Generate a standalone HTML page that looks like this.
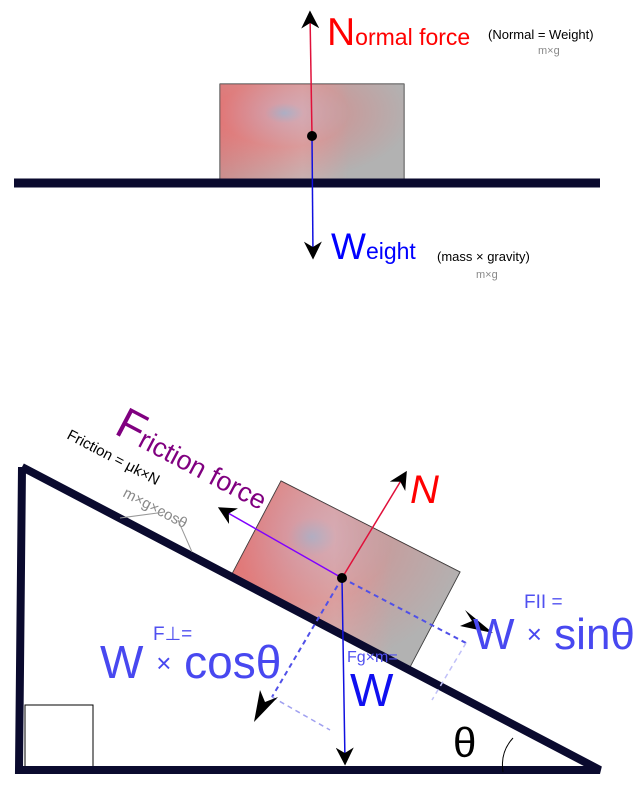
<!DOCTYPE html>
<html><head><meta charset="utf-8"><style>
html,body{margin:0;padding:0;background:#fff;width:642px;height:786px;overflow:hidden}
text{font-family:"Liberation Sans",sans-serif}
</style></head><body>
<svg width="642" height="786" viewBox="0 0 642 786">
<defs>
<radialGradient id="g1" cx="0.35" cy="0.3" r="0.7">
<stop offset="0" stop-color="#7fb8e0"/><stop offset="0.15" stop-color="#c8a0b0"/><stop offset="0.5" stop-color="#d48a8a"/><stop offset="1" stop-color="#b0b0b0"/>
</radialGradient>
<linearGradient id="g2" x1="0" x2="1">
<stop offset="0" stop-color="#f06060"/><stop offset="0.45" stop-color="#d08080" stop-opacity="0.6"/><stop offset="0.7" stop-color="#b4b4b4"/><stop offset="1" stop-color="#b4b4b4"/>
</linearGradient>
<marker id="ah" viewBox="0 0 20 20" refX="16" refY="10" markerWidth="18" markerHeight="18" markerUnits="userSpaceOnUse" orient="auto">
<path d="M0,0 L20,10 L0,20 L6,10 Z" fill="#000"/></marker>
</defs>

<g>
<rect x="220" y="84" width="184" height="97" fill="url(#g2)" stroke="#222" stroke-width="1"/>
<rect x="220" y="84" width="184" height="97" fill="url(#g1)" opacity="0.55"/>
<line x1="14" y1="183" x2="600" y2="183" stroke="#0a0a2e" stroke-width="9"/>
<line x1="312" y1="136" x2="310" y2="14" stroke="#e0103a" stroke-width="1.5" marker-end="url(#ah)"/>
<line x1="312" y1="136" x2="313" y2="256" stroke="#1010e0" stroke-width="1.5" marker-end="url(#ah)"/>
<circle cx="312" cy="136" r="5" fill="#000"/>
<text x="327" y="45" fill="#f00" font-size="39">N<tspan font-size="23">ormal force</tspan></text>
<text x="488" y="39" font-size="13" fill="#000">(Normal = Weight)</text>
<text x="538" y="54" font-size="11" fill="#888">m×g</text>
<text x="331" y="259" fill="#00f" font-size="37">W<tspan font-size="23">eight</tspan></text>
<text x="437" y="261" font-size="13" fill="#000">(mass × gravity)</text>
<text x="476" y="278" font-size="11" fill="#888">m×g</text>
</g>

<g>
<rect x="25" y="705" width="68" height="62" fill="none" stroke="#000" stroke-width="1"/>
<polygon points="281,481 460,572 410,667 232,574" fill="url(#g2)" stroke="#222" stroke-width="1"/>
<polygon points="281,481 460,572 410,667 232,574" fill="url(#g1)" opacity="0.5"/>
<polyline points="22,467 19,770 600,770 22,467" fill="none" stroke="#0a0a2e" stroke-width="8" stroke-linejoin="miter"/>
<path d="M513,738 Q500,752 503,772" fill="none" stroke="#000" stroke-width="1"/>
<text x="453" y="757" font-size="42" fill="#000">θ</text>
<line x1="342" y1="578" x2="466" y2="643" stroke="#5050e8" stroke-width="2" stroke-dasharray="5,4"/>
<line x1="342" y1="578" x2="272" y2="697" stroke="#5050e8" stroke-width="2" stroke-dasharray="5,4"/>
<line x1="272" y1="697" x2="330" y2="730" stroke="#a0a0f0" stroke-width="1.5" stroke-dasharray="5,4"/>
<line x1="466" y1="643" x2="432" y2="700" stroke="#c0c0f8" stroke-width="1.5" stroke-dasharray="5,4"/>
<path d="M493,633 L460,626 L472,621 L465,610 Z" fill="#000"/>
<path d="M254,722 L260,690 L265,702 L278,697 Z" fill="#000"/>
<line x1="342" y1="578" x2="405" y2="474" stroke="#e0103a" stroke-width="1.5" marker-end="url(#ah)"/>
<line x1="342" y1="578" x2="221" y2="509" stroke="#8000ff" stroke-width="1.5" marker-end="url(#ah)"/>
<line x1="342" y1="578" x2="345" y2="762" stroke="#1010e0" stroke-width="1.5" marker-end="url(#ah)"/>
<circle cx="342" cy="578" r="5" fill="#000"/>
<text x="410" y="503" font-size="40" fill="#f00" font-style="italic">N</text>
<text transform="translate(113,433) rotate(27.7)" font-size="27" fill="#800080"><tspan font-size="44">F</tspan>riction force</text>
<text transform="translate(66,438) rotate(27.7)" font-size="15" fill="#000">Friction = μk×N</text>
<text transform="translate(122,496) rotate(27.7)" font-size="15" fill="#888">m×g×cosθ</text>
<line x1="120" y1="518" x2="165" y2="512" stroke="#999" stroke-width="1"/>
<line x1="178" y1="520" x2="192" y2="552" stroke="#999" stroke-width="1"/>
<text x="153" y="640" font-size="19" fill="#5050f0">F⊥=</text>
<text x="100" y="678" font-size="46" fill="#4848f0">W <tspan font-size="26" dy="-6">×</tspan><tspan dy="6"> cosθ</tspan></text>
<text x="524" y="608" font-size="19" fill="#5050f0">FII =</text>
<text x="473" y="649" font-size="44" fill="#4848f0">W <tspan font-size="26" dy="-6">×</tspan><tspan dy="6"> sinθ</tspan></text>
<text x="347" y="662" font-size="16" fill="#5050f0">Fg×m=</text>
<text x="350" y="706" font-size="46" fill="#1010f0">W</text>
</g>
</svg>
</body></html>
